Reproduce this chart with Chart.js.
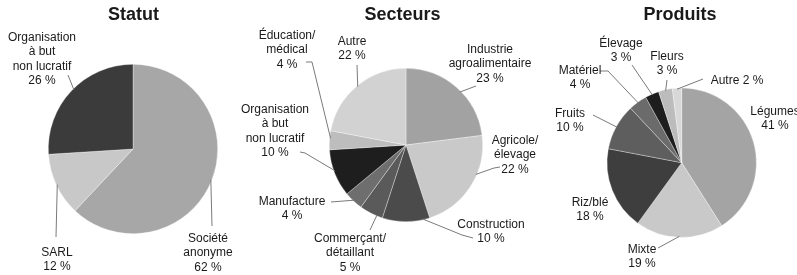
<!DOCTYPE html>
<html>
<head>
<meta charset="utf-8">
<script src="https://cdn.jsdelivr.net/npm/chart.js@4.4.0/dist/chart.umd.min.js"></script>
<style>
  body { margin: 0; background: #fff; }
  .wrap { position: relative; width: 797px; height: 275px; }
  .wrap canvas { position: absolute; left: 0; top: 0; }
</style>
</head>
<body>
<div class="wrap">
  <canvas id="statut" width="797" height="275"></canvas>
  <canvas id="secteurs" width="797" height="275"></canvas>
  <canvas id="produits" width="797" height="275"></canvas>
</div>
<script>
// data
var statutLabels = ["Société anonyme", "SARL", "Organisation à but non lucratif"];
var statutValues = [62, 12, 26];
var statutColors = ["#a7a7a7", "#c8c8c8", "#3b3b3b"];

var secteursLabels = ["Industrie agroalimentaire", "Agricole/élevage", "Construction", "Commerçant/détaillant",
  "Manufacture", "Organisation à but non lucratif", "Éducation/médical", "Autre"];
var secteursValues = [23, 22, 10, 5, 4, 10, 4, 22];
var secteursColors = ["#a2a2a2", "#c9c9c9", "#4b4b4b", "#5a5a5a", "#6e6e6e", "#1e1e1e", "#bdbdbd", "#d2d2d2"];

var produitsLabels = ["Légumes", "Mixte", "Riz/blé", "Fruits", "Matériel", "Élevage", "Fleurs", "Autre"];
var produitsValues = [41, 19, 18, 10, 4, 3, 3, 2];
var produitsColors = ["#a4a4a4", "#c9c9c9", "#3e3e3e", "#5e5e5e", "#6b6b6b", "#1e1e1e", "#bcbcbc", "#d8d8d8"];

// label placement (page pixels), one entry per slice, same order as data
var statutNotes = [
  { lines: ["Société", "anonyme"], x: 208, y: 242, path: [[212, 226]] },
  { lines: ["SARL"], x: 57, y: 256, path: [[56, 237]] },
  { lines: ["Organisation", "à but", "non lucratif"], x: 42, y: 41, path: [[68, 75]], at: 0.52 }
];
var secteursNotes = [
  { lines: ["Industrie", "agroalimentaire"], x: 490, y: 53, path: [[476, 86]], at: 0.55 },
  { lines: ["Agricole/", "élevage"], x: 515, y: 144, path: [[500, 167], [494, 168]], at: 0.38 },
  { lines: ["Construction"], x: 491, y: 228, path: [[473, 238], [462, 235]], at: 0.15 },
  { lines: ["Commerçant/", "détaillant"], x: 350, y: 242, path: [[370, 230]], at: 0.25 },
  { lines: ["Manufacture"], x: 292, y: 205, path: [[331, 202]] },
  { lines: ["Organisation", "à but", "non lucratif"], x: 275, y: 113, path: [[300, 152], [305, 153]], at: 0.55 },
  { lines: ["Éducation/", "médical"], x: 287, y: 39, path: [[306, 62], [312, 62]], at: 0.6 },
  { lines: ["Autre"], x: 352, y: 45, path: [[357, 65]] }
];
var produitsNotes = [
  { lines: ["Légumes"], x: 775, y: 115 },
  { lines: ["Mixte"], x: 642, y: 253, path: [[658, 248]] },
  { lines: ["Riz/blé"], x: 590, y: 206 },
  { lines: ["Fruits"], x: 570, y: 117, path: [[593, 115]] },
  { lines: ["Matériel"], x: 580, y: 74, path: [[600, 71], [608, 71]] },
  { lines: ["Élevage"], x: 621, y: 47, path: [[632, 65]] },
  { lines: ["Fleurs"], x: 667, y: 60, path: [[667, 80]] },
  { lines: ["Autre"], x: 737, y: 84, path: [[703, 79]], inline: true }
];

var font = "'Liberation Sans', Arial, Helvetica, sans-serif";

// title, outside labels and leader lines; notes kept in the closure
function pieNotes(title, titleX, notes) {
  return {
    id: "pieNotes",
    afterDraw: function (chart) {
      var ctx = chart.ctx;
      var arcs = chart.getDatasetMeta(0).data;
      var values = chart.data.datasets[0].data;
      ctx.save();
      ctx.textAlign = "center";
      ctx.fillStyle = "#1a1a1a";
      ctx.font = "bold 18px " + font;
      ctx.fillText(title, titleX, 20);

      ctx.strokeStyle = "#7a7a7a";
      ctx.lineWidth = 1;
      notes.forEach(function (n, i) {
        if (!n.path) return;
        var a = arcs[i];
        var f = n.at === undefined ? 0.5 : n.at;
        var ang = a.startAngle + f * (a.endAngle - a.startAngle);
        ctx.beginPath();
        ctx.moveTo(n.path[0][0], n.path[0][1]);
        for (var k = 1; k < n.path.length; k++) ctx.lineTo(n.path[k][0], n.path[k][1]);
        ctx.lineTo(a.x + Math.cos(ang) * (a.outerRadius - 1), a.y + Math.sin(ang) * (a.outerRadius - 1));
        ctx.stroke();
      });

      ctx.font = "12px " + font;
      notes.forEach(function (n, i) {
        var text = n.lines.slice();
        var pct = values[i] + " %";
        if (n.inline) text[text.length - 1] += " " + pct;
        else text.push(pct);
        text.forEach(function (t, k) {
          ctx.fillText(t, n.x, n.y + k * 14.3);
        });
      });
      ctx.restore();
    }
  };
}

function makePie(id, labels, values, colors, title, titleX, notes, pad) {
  var ctx = document.getElementById(id).getContext("2d");
  return new Chart(ctx, {
    type: "pie",
    data: {
      labels: labels,
      datasets: [{
        data: values,
        backgroundColor: colors,
        borderColor: "rgba(255,255,255,0.55)",
        borderWidth: 0.6
      }]
    },
    options: {
      responsive: false,
      animation: false,
      events: [],
      layout: { padding: pad },
      plugins: {
        legend: { display: false },
        tooltip: { enabled: false },
        title: { display: false }
      }
    },
    plugins: [pieNotes(title, titleX, notes)]
  });
}

makePie("statut", statutLabels, statutValues, statutColors, "Statut", 133.5, statutNotes,
  { left: 48, right: 579, top: 64, bottom: 41 });
makePie("secteurs", secteursLabels, secteursValues, secteursColors, "Secteurs", 402.5, secteursNotes,
  { left: 329, right: 314, top: 68, bottom: 53 });
makePie("produits", produitsLabels, produitsValues, produitsColors, "Produits", 680, produitsNotes,
  { left: 606.7, right: 40.3, top: 87.7, bottom: 37.3 });
</script>
</body>
</html>
